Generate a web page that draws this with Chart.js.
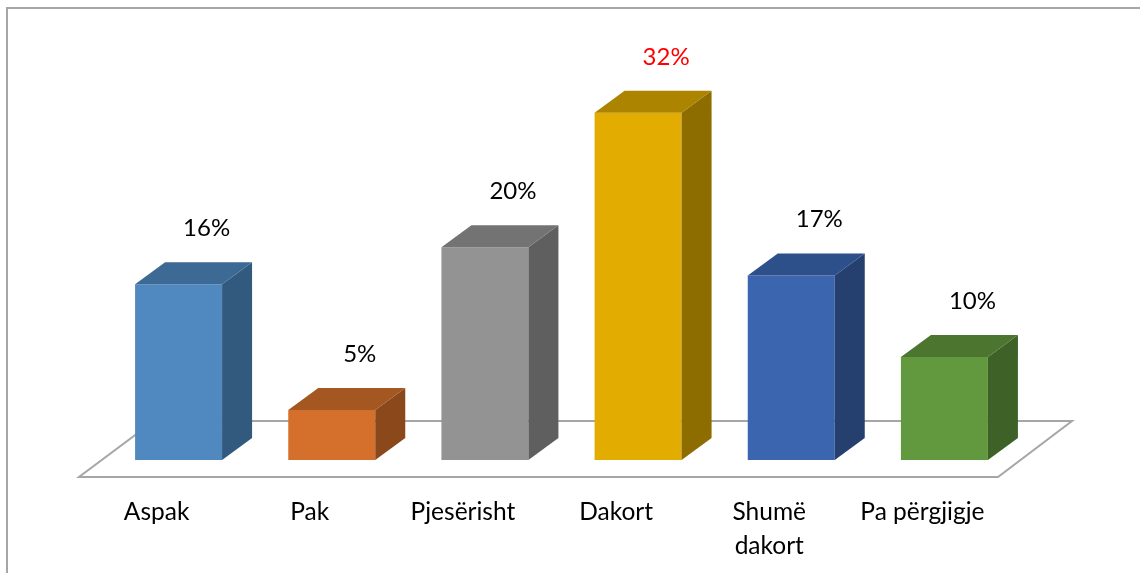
<!DOCTYPE html>
<html>
<head>
<meta charset="utf-8">
<script src="https://cdn.jsdelivr.net/npm/chart.js@4/dist/chart.umd.min.js"></script>
<style>
  html, body { margin: 0; padding: 0; background: #fff; }
  #wrap { position: relative; width: 1140px; height: 573px; overflow: hidden; }
  #frame { position: absolute; left: 6px; top: 7px; width: 1200px; height: 700px;
           border-left: 2px solid #A6A6A6; border-top: 2px solid #A6A6A6; box-sizing: border-box; }
  canvas { position: absolute; left: 0; top: 0; }
</style>
</head>
<body>
<div id="wrap">
  <div id="frame"></div>
  <canvas id="c" width="1140" height="573"></canvas>
</div>
<script>
const categories = ["Aspak", "Pak", "Pjesërisht", "Dakort", ["Shumë", "dakort"], "Pa përgjigje"];
const values = [16.2, 4.6, 19.6, 32, 17, 9.5];
const valueLabels = ["16%", "5%", "20%", "32%", "17%", "10%"];

const frontColors = ["#4F89C0", "#D4702C", "#939393", "#E2AC00", "#3B65AF", "#62983E"];
const topColors   = ["#3D6A94", "#A55722", "#737373", "#AD8400", "#2D4F8A", "#4C7630"];
const sideColors  = ["#32597E", "#8A481B", "#5F5F5F", "#8E6D00", "#253F6E", "#3E6128"];
const labelColors = ["#000000", "#000000", "#000000", "#FF0000", "#000000", "#000000"];

const FONT = "Lato, 'Open Sans', sans-serif";
const DX = 30, DY = 22;

const floorPlugin = {
  id: 'floor',
  beforeDatasetsDraw(chart) {
    const { ctx, chartArea } = chart;
    const b = chartArea.bottom;
    ctx.save();
    ctx.strokeStyle = '#A6A6A6';
    ctx.lineWidth = 2;
    ctx.beginPath();
    ctx.moveTo(chartArea.left - 23, b + 17);
    ctx.lineTo(chartArea.right - 23, b + 17);
    ctx.lineTo(chartArea.right + 51, b - 39);
    ctx.lineTo(chartArea.left + 52, b - 39);
    ctx.closePath();
    ctx.stroke();
    ctx.restore();
  }
};

const box3dPlugin = {
  id: 'box3d',
  afterDatasetsDraw(chart) {
    const { ctx } = chart;
    const meta = chart.getDatasetMeta(0);
    ctx.save();
    meta.data.forEach((bar, i) => {
      const p = bar.getProps(['x', 'y', 'base', 'width'], true);
      const l = p.x - p.width / 2, r = p.x + p.width / 2, t = p.y, btm = p.base;
      ctx.fillStyle = sideColors[i];
      ctx.beginPath();
      ctx.moveTo(r, t); ctx.lineTo(r + DX, t - DY); ctx.lineTo(r + DX, btm - DY); ctx.lineTo(r, btm);
      ctx.closePath(); ctx.fill();
      ctx.fillStyle = topColors[i];
      ctx.beginPath();
      ctx.moveTo(l, t); ctx.lineTo(l + DX, t - DY); ctx.lineTo(r + DX, t - DY); ctx.lineTo(r, t);
      ctx.closePath(); ctx.fill();
      // value label
      ctx.fillStyle = labelColors[i];
      ctx.font = "24px " + FONT;
      ctx.textAlign = 'center';
      ctx.textBaseline = 'middle';
      ctx.fillText(valueLabels[i], p.x + 28, t - 56);
    });
    ctx.restore();
  }
};

new Chart(document.getElementById('c'), {
  type: 'bar',
  data: {
    labels: categories,
    datasets: [{
      data: values,
      backgroundColor: frontColors,
      borderWidth: 0,
      barPercentage: 0.568,
      categoryPercentage: 1.0
    }]
  },
  options: {
    responsive: false,
    devicePixelRatio: 1,
    animation: false,
    layout: { padding: { left: 102, right: 119, top: 26, bottom: 0 } },
    plugins: { legend: { display: false }, tooltip: { enabled: false } },
    scales: {
      x: {
        grid: { display: false, drawTicks: false },
        border: { display: false },
        afterFit(scale) { scale.height = 113; },
        ticks: {
          color: '#000',
          font: { family: FONT, size: 24.5, lineHeight: 1.35 },
          padding: 36,
          labelOffset: -22,
          maxRotation: 0,
          minRotation: 0,
          autoSkip: false
        }
      },
      y: { display: false, min: 0, max: 40 }
    }
  },
  plugins: [floorPlugin, box3dPlugin]
});
</script>
</body>
</html>
